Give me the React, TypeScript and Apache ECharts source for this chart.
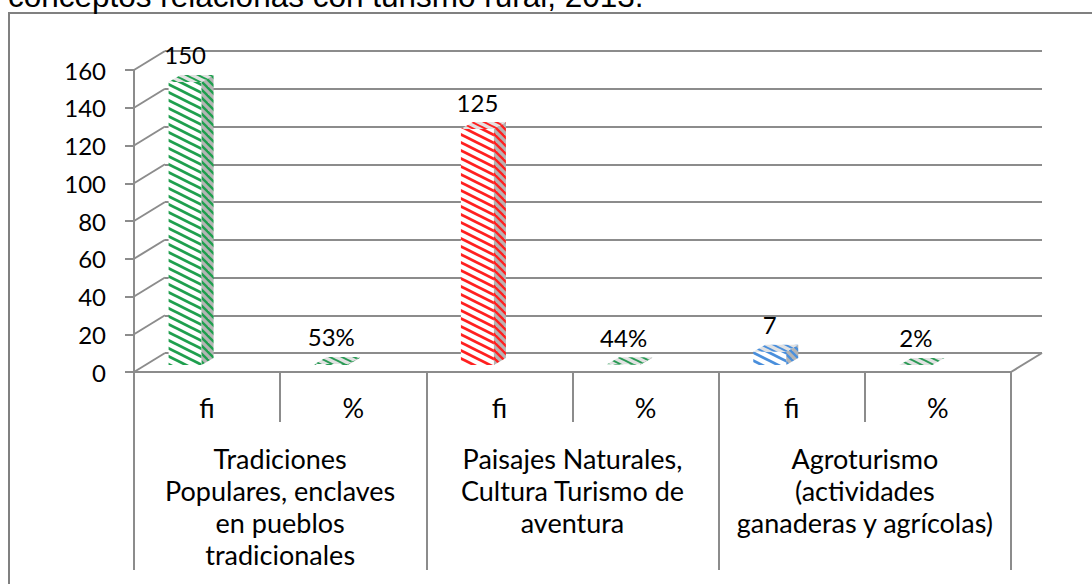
import React, { useEffect, useRef } from "react";
import * as echarts from "echarts";

// ---- data ----
const titleText = "conceptos relacionas con turismo rural, 2013.";
const groupLabels = [
  "Tradiciones\nPopulares, enclaves\nen pueblos\ntradicionales",
  "Paisajes Naturales,\nCultura Turismo de\naventura",
  "Agroturismo\n(actividades\nganaderas y agrícolas)",
];
const subLabels = ["fi", "%"];
const fiValues = [150, 125, 7];
const pctValues = [53, 44, 2];
const yTicks = [0, 20, 40, 60, 80, 100, 120, 140, 160];

// ---- style ----
const fiColors = ["#1f9f4e", "#ff2020", "#4a8fdc"];
const pctColor = "#2a9a55";
const GRAY = "#8c8c8c";
const FONT = "Lato";
const DX = 31;
const DY = -19;

function stripes(color: string, bg: string, period: number, slope: number, lw: number) {
  const w = Math.round(period / slope);
  const h = period;
  const cv = document.createElement("canvas");
  cv.width = w;
  cv.height = h;
  const ctx = cv.getContext("2d")!;
  ctx.fillStyle = bg;
  ctx.fillRect(0, 0, w, h);
  ctx.strokeStyle = color;
  ctx.lineWidth = lw;
  for (let k = -3; k <= 3; k++) {
    ctx.beginPath();
    ctx.moveTo(-4, k * h - 4 * slope);
    ctx.lineTo(w + 4, k * h + (w + 4) * slope);
    ctx.stroke();
  }
  return { image: cv, repeat: "repeat" } as any;
}

export default function App() {
  const ref = useRef<HTMLDivElement>(null);
  useEffect(() => {
    const chart = echarts.init(ref.current!, null, { renderer: "svg" });
    const xCats = groupLabels.flatMap(() => subLabels);
    const barData = groupLabels.flatMap((_, k) => [
      [2 * k, fiValues[k]],
      [2 * k + 1, pctValues[k] / 100],
    ]);
    const barLabels = groupLabels.flatMap((_, k) => [String(fiValues[k]), pctValues[k] + "%"]);
    const barColors = groupLabels.flatMap((_, k) => [fiColors[k], pctColor]);
    const pats = barColors.map((c) => ({
      front: stripes(c, "#ffffff", 8, 0.5, 2.8),
      side: stripes(c, "#b4b4b4", 8, 1, 2.4),
      top: stripes(c, "#e2e2e2", 6, 0.5, 2),
    }));

    const option: any = {
      animation: false,
      grid: [
        { left: 165, right: 50, top: 51, bottom: 231, show: false },
        { left: 134, right: 81, top: 70, bottom: 212, show: false },
      ],
      xAxis: [
        { gridIndex: 0, type: "category", data: xCats, show: false },
        {
          gridIndex: 1,
          type: "category",
          data: xCats,
          position: "bottom",
          axisLine: { show: true, lineStyle: { color: GRAY, width: 2 } },
          axisTick: { show: true, length: 50, lineStyle: { color: GRAY, width: 2 } },
          axisLabel: { interval: 0, margin: 20, fontSize: 27, lineHeight: 30, fontFamily: FONT, color: "#000" },
        },
        {
          gridIndex: 1,
          type: "category",
          data: groupLabels,
          position: "bottom",
          axisLine: { show: false },
          axisTick: { show: true, length: 198, lineStyle: { color: GRAY, width: 2 } },
          axisLabel: { interval: 0, margin: 70, fontSize: 27, lineHeight: 32, fontFamily: FONT, color: "#000", align: "center" },
        },
      ],
      yAxis: [
        {
          gridIndex: 0,
          type: "value",
          min: 0,
          max: 160,
          interval: 20,
          axisLine: { show: false },
          axisTick: { show: false },
          axisLabel: { show: false },
          splitLine: { show: true, lineStyle: { color: GRAY, width: 2 } },
        },
        {
          gridIndex: 1,
          type: "value",
          min: 0,
          max: 160,
          interval: 20,
          axisLine: { show: true, lineStyle: { color: GRAY, width: 2 } },
          axisTick: { show: true, length: 9, lineStyle: { color: GRAY, width: 2 } },
          axisLabel: { margin: 28, fontSize: 24, fontFamily: FONT, color: "#000" },
          splitLine: { show: false },
        },
      ],
      series: [
        {
          type: "custom",
          xAxisIndex: 1,
          yAxisIndex: 1,
          clip: false,
          silent: true,
          data: yTicks.map((t) => [0, t]),
          renderItem: (params: any, api: any) => {
            const v = api.value(1);
            const y = api.coord([0, v])[1];
            const cs = params.coordSys;
            const children: any[] = [
              {
                type: "line",
                shape: { x1: cs.x, y1: y, x2: cs.x + DX, y2: y + DY },
                style: { stroke: GRAY, lineWidth: 2 },
              },
            ];
            if (v === 0) {
              children.push({
                type: "line",
                shape: { x1: cs.x + cs.width, y1: y, x2: cs.x + cs.width + DX, y2: y + DY },
                style: { stroke: GRAY, lineWidth: 2 },
              });
            }
            return { type: "group", children };
          },
        },
        {
          type: "custom",
          xAxisIndex: 1,
          yAxisIndex: 1,
          clip: false,
          data: barData,
          z: 5,
          renderItem: (params: any, api: any) => {
            const i = params.dataIndex;
            const idx = api.value(0);
            const v = api.value(1);
            const c = api.coord([idx, v]);
            const b = api.coord([idx, 0]);
            const fw = 33, sx = 12, sy = 7, shiftX = -22, shiftY = -7;
            const x0 = c[0] + shiftX - fw / 2;
            const top = c[1] + shiftY;
            const bot = b[1] + shiftY;
            const p = pats[i];
            const children: any[] = [];
            if (bot - top > 0.5) {
              children.push({
                type: "rect",
                shape: { x: x0, y: top, width: fw, height: bot - top },
                style: { fill: p.front },
              });
              children.push({
                type: "polygon",
                shape: { points: [[x0 + fw, top], [x0 + fw + sx, top - sy], [x0 + fw + sx, bot - sy], [x0 + fw, bot]] },
                style: { fill: p.side },
              });
            }
            children.push({
              type: "polygon",
              shape: { points: [[x0, top], [x0 + fw, top], [x0 + fw + sx, top - sy], [x0 + sx, top - sy]] },
              style: { fill: p.top },
            });
            children.push({
              type: "text",
              x: x0 + fw / 2,
              y: top - 27,
              style: {
                text: barLabels[i],
                fill: "#000",
                fontSize: 24,
                fontFamily: FONT,
                align: "center",
                verticalAlign: "middle",
              },
            });
            return { type: "group", children };
          },
        },
      ],
      graphic: [
        {
          type: "rect",
          shape: { x: 9, y: 13, width: 1100, height: 600 },
          style: { fill: "none", stroke: "#808080", lineWidth: 2 },
          silent: true,
        },
        {
          type: "text",
          x: 8,
          y: -4,
          style: {
            text: titleText,
            fill: "#000",
            fontSize: 31.5,
            fontFamily: "Liberation Sans, Arial",
            align: "left",
            verticalAlign: "middle",
          },
        },
      ],
    };
    chart.setOption(option);
    return () => chart.dispose();
  }, []);
  return (
    <div
      ref={ref}
      style={{ position: "fixed", left: 0, top: 0, width: 1092, height: 584, background: "#fff" }}
    />
  );
}
